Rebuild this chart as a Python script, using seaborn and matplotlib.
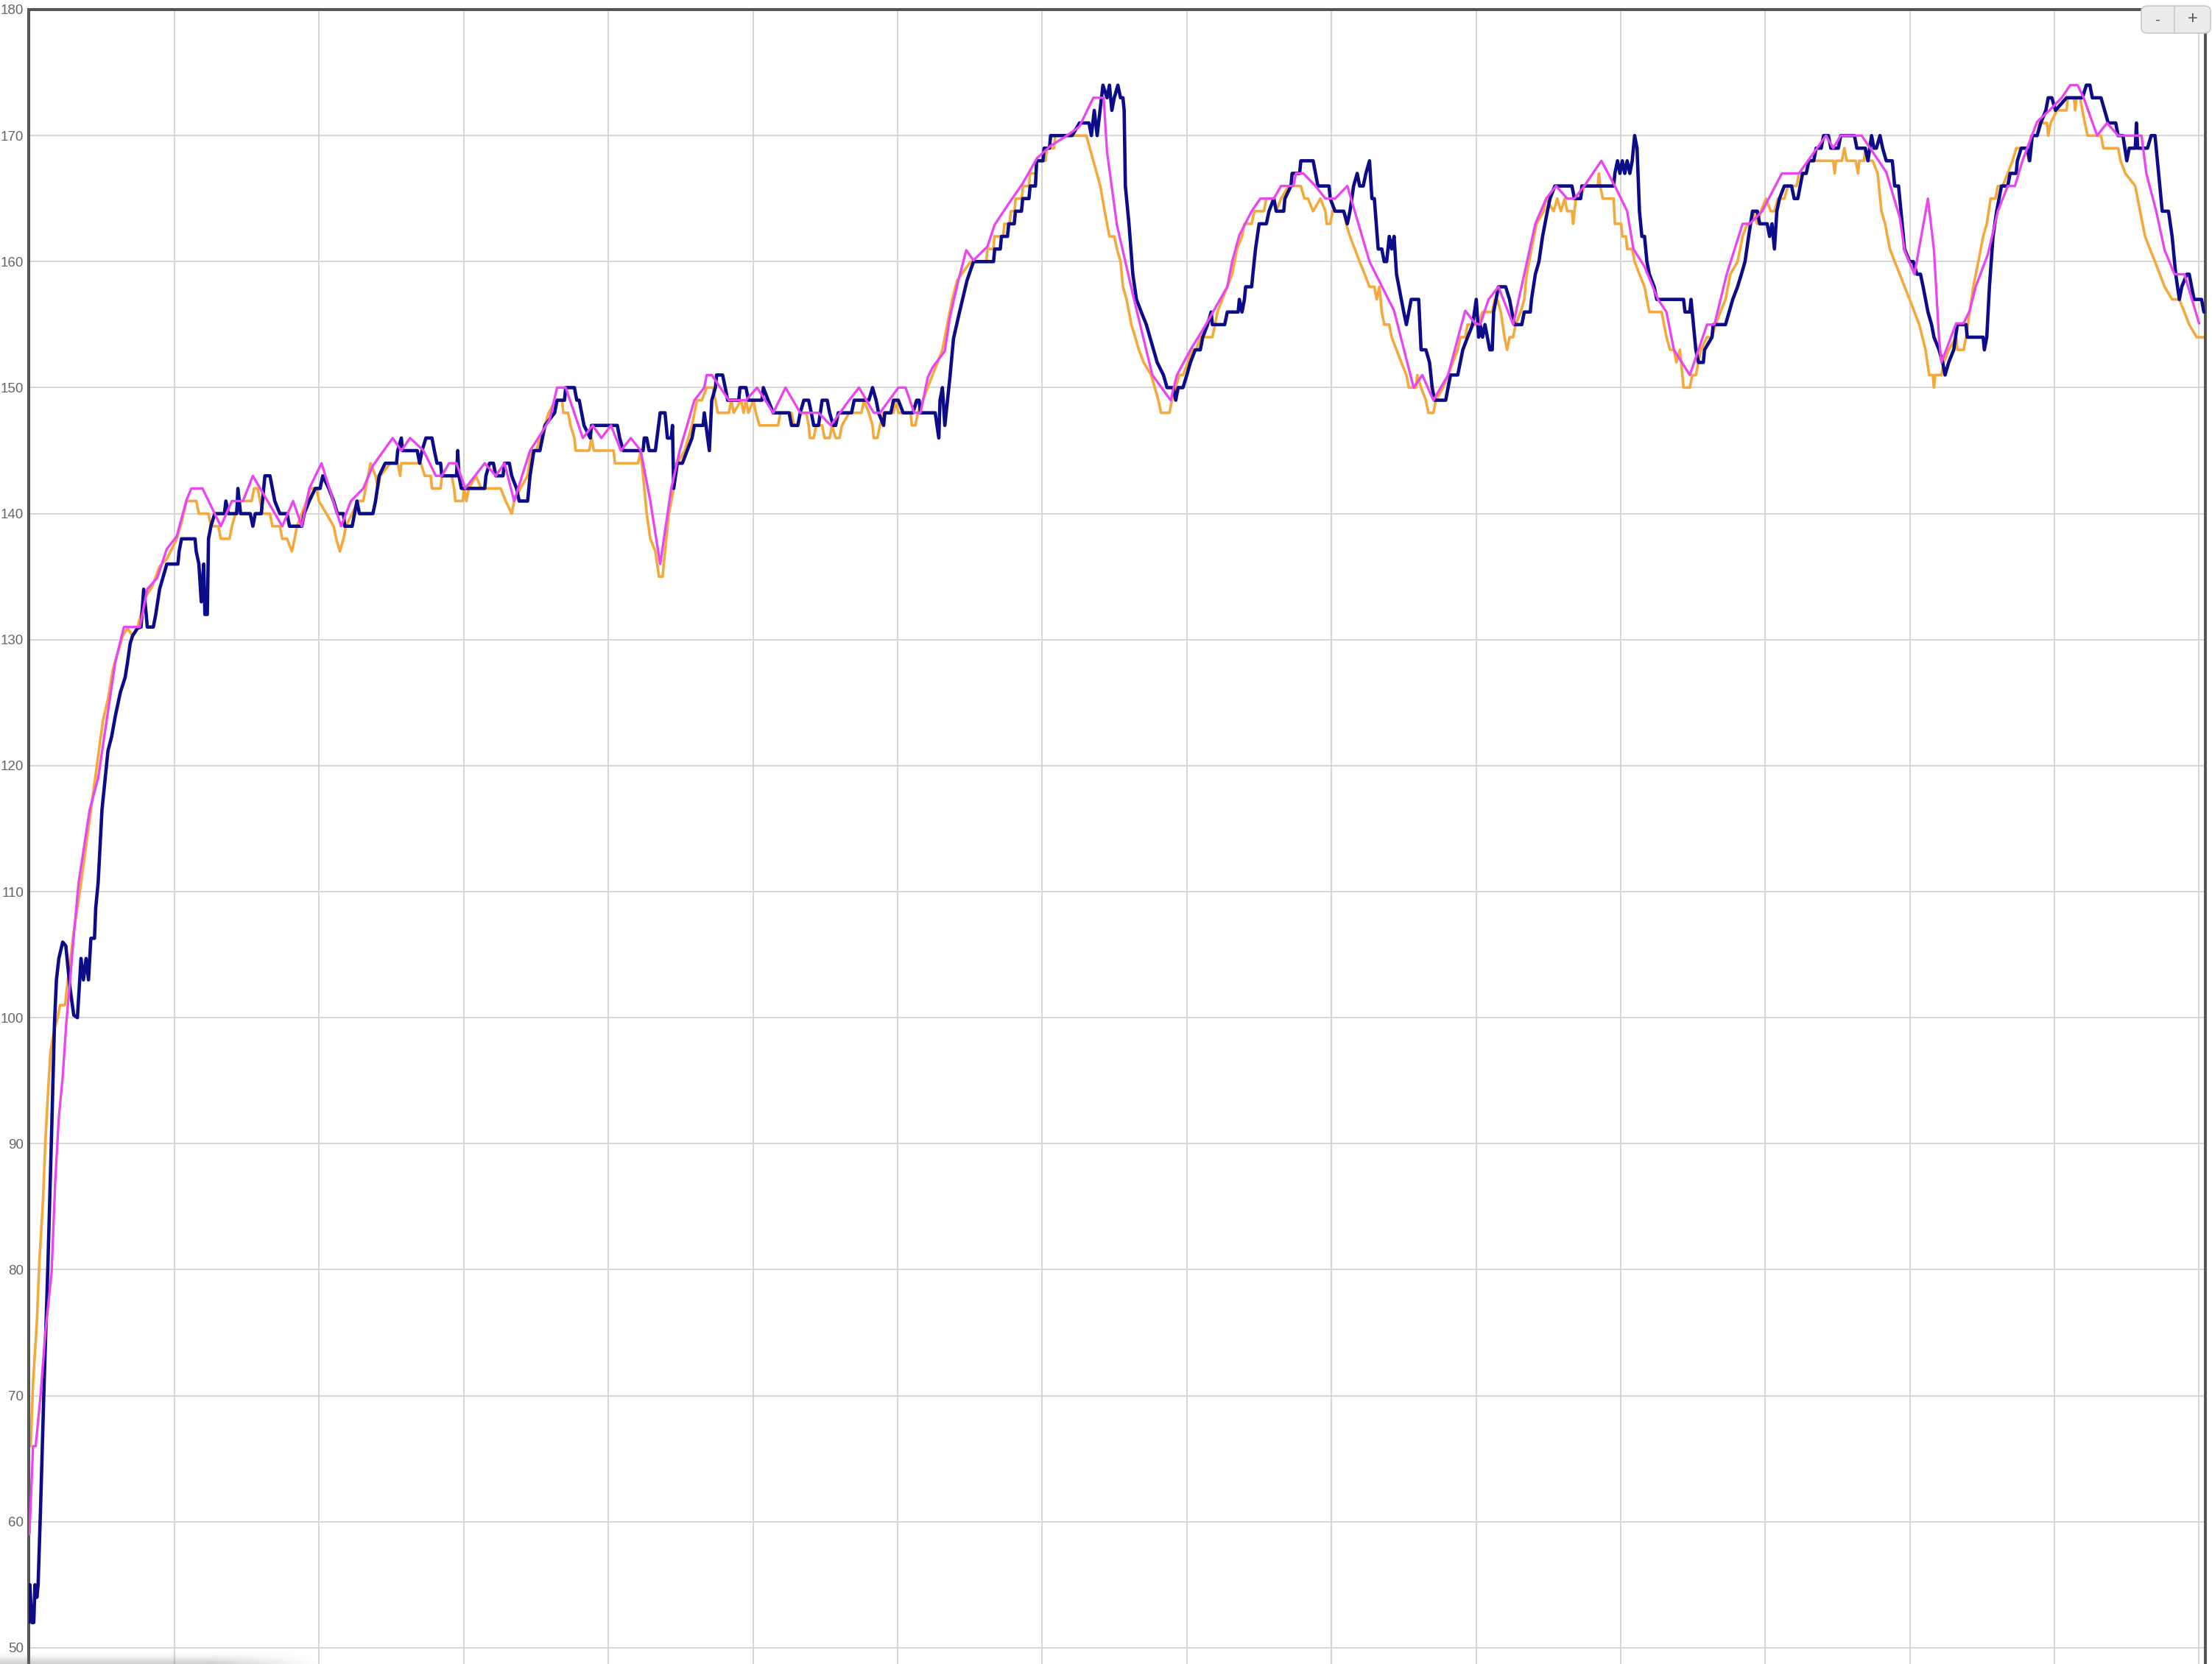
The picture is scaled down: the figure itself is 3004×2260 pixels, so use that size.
import numpy as np
import pandas as pd
import matplotlib
matplotlib.use("Agg")
import matplotlib.pyplot as plt
import seaborn as sns
from matplotlib.patches import FancyBboxPatch

# ---------------- data (time in s, value) ----------------
navy_series = [
(-0.6,52),(0.0,55),(0.8,52),(1.6,52),(2.1,55),(2.9,54),(3.4,55),(3.9,58),(4.4,61),(5.9,71),(7.5,80.6),(9.0,90.9),(10.2,99.6),(11.0,103),(12.0,104.7),(13.6,106),(14.9,105.7),(16.6,102.4),(18.2,100.2),(19.7,100),(21.2,104.7),(22.2,103),(23.3,104.7),(24.3,103),(25.3,106.3),(26.8,106.3),(27.3,108.7),(28.3,110.7),
(29.9,116.5),(32.4,121.2),(33.9,122.3),(35.4,123.9),(37.5,125.8),(39.5,127),(40.5,128.2),(41.6,129.7),(42.6,130.3),(44.6,130.9),(46.1,131),(47.2,134),(48.2,132.1),(48.7,131),(51.2,131),(52.2,132),(53.8,134),(55.3,135),(56.8,136),(61.4,136),(61.9,137),(62.9,138),(68.5,138),(69.0,137),(70.1,136),(71.1,133),(72.1,136),(72.6,132),(73.6,132),(74.1,138),(75.1,139),(76.7,140),(80.7,140),(81.3,141),(82.3,140),(85.8,140),(86.3,142),(87.4,140),(91.4,140),(92.5,139),(93.5,140),(96.0,140),(97.5,143),(99.6,143),(101.6,141),(103.7,140),(106.7,140),(107.7,139),
(112.8,139),(113.8,140),(115.9,141),(118.4,142),(120.4,142),(121.5,143),(124.0,142),(126.0,141),(127.6,140),(130.1,140),(130.6,139),(133.7,139),(134.7,140),(135.7,141),(136.7,140),(142.3,140),(143.4,141),(144.9,143),(147.4,144),
(152.1,144),(152.6,145),(154.1,146),(154.6,145),(160.7,145),(161.7,144),(162.7,145),(164.3,146),(166.8,146),(167.8,145),(168.9,144),(170.4,144),(170.9,143),(177.0,143),(177.5,145),(178.0,143),(179.0,142),(188.7,142),(189.2,143),(190.7,144),(192.3,144),(193.3,143),(196.3,143),(196.9,144),(198.9,144),(199.9,143),(201.9,142),(203.0,141),(206.5,141),(207.5,143),(209.1,145),(211.6,145),(213.7,147),(217.7,148),(218.7,149),(221.8,149),(222.3,150),(225.9,150),(226.9,149),(227.9,149),(228.9,148),(229.9,147),(232.5,146),(233.0,147),(243.7,147),(244.7,146),(246.2,145),(254.4,145),(254.9,146),(255.9,146),(256.9,145),(259.5,145),(261.5,148),(263.5,148),(264.5,146),(266.1,146),(266.6,147),(267.1,142),(268.6,144),(270.7,144),(272.7,145),(274.7,146),(275.7,147),(279.3,147),(279.8,148),(281.9,145),(282.9,149),(284.4,150),(284.9,151),(287.4,151),(288.5,150),(289.5,149),(294.1,149),(294.6,150),(297.1,150),(298.1,149),(303.7,149),(304.3,150),
(306.3,149),(308.4,148),(315.0,148),(316.0,147),(318.6,147),(319.6,148),(321.1,149),(323.1,149),(324.2,148),(325.2,147),(327.2,147),(328.7,149),(330.8,149),(331.8,148),(333.3,147),(334.3,147),(335.4,148),(340.9,148),(342.0,149),(348.1,149),(349.6,150),(351.1,149),(352.1,148),(354.2,147),(354.7,148),(357.2,148),(358.3,149),(360.3,149),(362.3,148),(366.4,148),(367.9,149),(368.9,149),(369.5,148),(375.6,148),(377.1,146),(377.6,149),(378.6,150),(379.6,147),(380.7,149),(381.7,150.8),(383.2,153.9),(385.7,156),(388.8,158.5),
(391.5,160),(399.8,160),(400.3,161),(402.6,161),(403.1,162),(405.6,162),(406.1,163),(408.4,163),(408.9,164),(411.4,164),(411.9,165),(414.5,165),(415.0,166),(417.2,166),(417.7,168),(420.3,168),(420.8,169),(423.0,169),(423.5,170),(432.4,170),(435.5,171),(439.4,171),(440.4,170),(441.6,172),(442.8,170),(444.0,172),(445.2,174),
(446.9,173),(447.9,174),(448.9,172),(449.9,173),(451.4,174),(452.5,173),(453.5,173),(454.0,172),(454.5,166),(456.0,163),(457.6,159),(459.1,157),(461.1,156),(463.2,155),(464.7,154),(466.2,153),(467.7,152),(470.3,151),(471.8,150),(474.4,150),(475.4,149),(476.4,150),(478.4,150),(480.0,151),(481.5,152),(483.5,153),(485.6,153),(486.6,154),(488.6,155),(490.1,156),(490.6,155),(495.7,155),(496.8,156),(501.3,156),(501.8,157),(502.9,156),(503.9,157),(504.4,158),(506.9,158),(507.4,159),(508.5,161),(510.0,163),(513.0,163),(514.1,164),(516.1,165),(517.1,164),(520.2,164),(520.7,165),(523.2,166),(523.7,167),(526.8,167),(527.3,168),(532.4,168),(533.4,167),(534.4,166),(539.0,166),(539.5,165),(541.5,164),(545.1,164),(546.6,163),(547.7,164),(549.2,166),(550.7,167),(551.7,166),(553.2,166),(554.3,167),(555.8,168),(556.8,165),(557.8,165),(559.4,161),(560.9,161),(561.9,160),(562.9,160),(564.0,162),(565.0,161),(566.0,162),(567.0,159),(569.0,157),(570.0,156),(571.1,155),(572.1,156),(573.1,157),(576.2,157),(577.2,153),(579.2,153),(580.7,152),(581.8,150),(582.8,149),(587.4,149),(589.4,151),(592.4,151),(594.5,153),(596.5,154),(598.6,155),(600.1,157),(601.1,154),
(601.7,155),(602.7,154),(603.7,155),(604.7,154),(605.7,153),(606.7,153),(607.3,156),(608.3,157),(609.3,158),(612.3,158),(613.9,157),(614.9,156),(615.9,155),(619.0,155),(620.0,156),(622.5,156),(623.0,157),(624.6,159),(626.1,160),(627.6,162),(628.6,163),(629.6,164),(630.7,165),(632.7,166),(639.8,166),(640.8,165),(643.4,165),(643.9,166),(657.1,166),(657.6,167),(658.7,168),(659.7,167),(660.7,168),(661.7,167),(662.7,168),(663.8,167),(664.8,168),(665.8,170),(666.8,169),(667.8,164),(668.8,162),(669.9,162),(670.9,160),(671.9,159),(673.9,158),(675.0,157),(686.1,157),(686.7,156),(688.7,156),(689.2,157),(690.2,155),(691.2,153),(692.3,152),(694.3,152),(694.8,153),(697.9,154),(698.4,155),(703.5,155),(705.0,156),(706.5,157),(708.5,158),(710.1,159),(711.6,160),(713.1,162),(714.7,164),(716.7,164),(717.7,163),(720.8,163),(721.8,162),(722.8,163),(723.8,161),(724.8,164),(725.9,165),(727.9,166),(730.9,166),(732.0,165),(733.5,165),(734.5,166),(735.5,167),(737.0,167),(738.1,168),(740.1,168),(741.1,169),(743.2,169),(744.2,170),(746.2,170),(747.2,169),(750.3,169),(751.3,170),
(757.0,170),(758.0,169),(761.5,169),(762.6,168),(764.1,170),(765.1,169),(766.1,169),(767.6,170),(768.7,169),(770.2,168),(772.7,168),(773.7,166),(775.3,166),(776.8,163),(777.8,161),(779.9,160),(781.4,160),(782.9,159),(784.4,159),(785.5,158),(786.5,157),(787.5,156),(789.0,155),(790.0,154),(792.1,153),(793.6,152),(794.6,151),(796.1,152),(798.2,153),(799.7,155),(803.3,155),(803.8,154),(810.4,154),(810.9,153),(811.9,154),(813.0,158),(814.5,162),(816.0,164),(818.0,166),(820.6,166),(821.6,167),(824.1,167),(824.6,168),(826.2,169),(828.7,169),(829.7,168),(830.8,170),(832.8,170),(834.3,171),(836.4,172),(837.4,173),(838.9,173),(840.4,172),(845.0,173),(851.6,173),(853.2,174),(854.7,174),(855.7,173),(859.3,173),(860.8,172),(862.3,171),(865.4,171),(866.4,170),(868.4,170),(870.0,168),(871.0,169),(873.5,169),(874.0,171),(874.5,169),(878.6,169),(880.1,170),(881.7,170),(883.7,166),(884.7,164),(887.3,164),(888.8,162),(890.3,159),(891.8,157),(892.8,158),(894.9,159),(895.9,159),(897.9,157),(901.0,157),(902.0,156),
]

orange_series = [
(-0.6,66),(0.3,66),(1.3,71),(2.9,75.9),(3.9,80.6),(5.4,85.4),(6.4,90.1),(7.5,94),(8.5,97.2),(10.0,99),(11.5,100),(12.5,101),(14.6,101),(15.6,102.8),(16.6,104.3),(18.1,106.7),(19.2,108.1),(21.2,110.7),
(25.3,116.5),(30.4,123.7),(32.4,125.3),(34.4,127.6),(36.5,129),(38.5,130.3),(40.5,130.9),(42.6,130.3),(44.6,130.9),(47.7,133.3),(50.7,134.2),(53.8,135.8),(56.8,136.4),(58.9,137.2),(60.9,138),(62.9,139.3),(65.0,141),(69.0,141),(70.1,140),(74.1,140),(75.1,139),(78.2,139),(79.2,138),(82.8,138),(83.8,139),(85.3,140),(86.3,141),(92.0,141),(93.0,142),(94.5,142),(95.5,141),(96.5,140),(99.6,140),(100.6,139),(103.7,139),(104.7,138),(106.7,138),(108.7,137),
(109.8,138),(110.8,139),(114.8,141),(116.4,142),(118.9,142),(119.9,141),(123.0,140),(126.0,139),(127.1,138),(128.6,137),(130.1,138),(131.1,139),(136.2,141),(138.3,141),(141.3,144),(143.4,143),(144.4,142),(145.4,143),(149.5,144),
(152.6,144),(153.6,143),(154.1,144),(162.2,144),(163.8,143),(166.3,143),(166.8,142),(170.4,142),(170.9,143),(175.0,143),(176.0,142),(176.5,141),(179.6,141),(180.1,142),(181.1,141),(182.1,142),(185.1,143),(187.2,142),(195.3,142),(197.4,141),(199.9,140),(200.9,141),(203.5,142),(206.5,143),(208.1,145),(210.1,145),(211.6,146),(213.6,147),(215.2,148),(218.2,149),(220.8,149),(221.3,148),(223.3,148),(224.3,147),(225.9,146),(226.4,145),(232.0,145),(233.0,146),(234.0,145),(242.2,145),(242.7,144),(252.3,144),(253.4,145),(254.4,143),(255.9,140),(257.4,138),(259.5,137),(261.0,135),(262.5,135),(263.5,137),(265.1,140),(267.1,142),(268.6,144),(271.7,145),(274.7,147),(276.8,149),(278.8,149),(280.8,150),(283.4,150),(284.4,149),(285.4,148),(290.0,148),(291.0,149),(292.0,148),(295.1,149),(296.1,148),(297.1,149),(298.1,148),(300.2,149),(301.2,148),(302.7,147),
(310.4,147),(311.4,148),(316.0,148),(317.0,147),(318.6,147),(319.6,148),(322.1,148),(323.1,147),(323.6,146),(325.2,146),(326.2,147),(328.7,147),(329.7,146),(331.8,146),(332.8,147),(334.3,146),(335.9,146),(336.9,147),(339.9,148),(345.0,148),(346.0,149),(348.1,148),(349.6,147),(350.1,146),(351.6,146),(352.7,147),(354.2,148),(358.3,148),(359.3,149),(360.3,148),(365.4,148),(365.9,147),(367.4,147),(368.4,148),(370.5,149),(372.5,150),(374.5,151),(376.6,152),(378.6,153),(380.6,155),(382.7,157),(384.7,158.5),
(390.3,160),(396.8,160),(397.3,161),(399.7,161),(400.2,162),(403.8,162),(404.3,163),(406.5,163),(407.0,164),(408.5,164),(409.0,165),(411.5,165),(412.0,166),(414.5,166),(415.0,167),(417.3,167),(417.8,168),(421.4,168),(421.9,169),(424.9,169),(425.4,170),(438.3,170),(441.2,168),(444.1,166),
(445.9,164),(447.9,162),(449.9,162),(451.0,161),(452.5,160),(453.5,158),(455.0,157),(456.0,156),(457.0,155),(458.6,154),(460.1,153),(462.1,152),(465.2,151),(466.7,150),(468.2,149),(469.3,148),(472.8,148),(473.8,149),(475.4,150),(476.9,151),(478.4,151),(480.5,152),(482.0,153),(484.0,153),(485.6,154),(490.6,154),(491.7,155),(492.7,156),(494.7,157),(496.8,158),(498.8,159),(500.8,161),(502.9,162),(503.9,163),(506.9,163),(508.0,164),(512.0,164),(513.0,165),(516.1,165),(517.1,164),(519.1,165),(522.2,166),(527.3,166),(528.8,165),(530.3,165),(532.4,164),(535.4,165),(537.5,164),(538.0,163),(539.5,163),(540.5,164),(545.1,164),(546.1,163),(547.7,162),(549.7,161),(551.7,160),(553.8,159),(555.8,158),(557.8,158),(558.8,157),(559.9,158),(560.9,156),(561.9,155),(564.0,155),(565.0,154),(567.0,153),(569.0,152),(571.1,151),(572.1,150),(575.1,150),(575.6,151),(577.2,150),(579.2,149),(580.2,148),(582.3,148),(583.3,149),(586.3,150),(588.4,151),(590.4,152),(592.4,153),(593.5,154),(595.5,154),(596.5,155),(598.6,155),
(600.6,155),(602.7,156),(606.7,156),(607.8,157),(608.8,157),(610.3,156),(611.8,154),(612.9,153),(613.9,154),(615.4,154),(616.4,155),(618.5,156),(620.0,157),(621.0,159),(623.0,161),(625.1,163),(628.1,164),(629.1,165),(632.2,164),(633.7,165),(635.2,164),(636.8,165),(637.8,164),(639.8,164),(640.3,163),(641.4,165),(643.4,165),(644.9,166),(650.5,166),(651.0,167),(651.5,166),(652.6,165),(657.1,165),(657.6,163),(660.2,163),(660.7,162),(662.2,162),(662.7,161),(664.8,161),(665.8,160),(667.8,159),(669.9,158),(670.9,157),(671.9,156),(677.0,156),(678.0,155),(679.0,154),(680.5,153),(682.1,153),(683.1,152),(684.6,153),(685.1,152),(686.1,150),(688.7,150),(689.7,151),(691.2,151),(693.3,153),(695.8,154),(697.9,154),(699.4,155),(701.4,156),(703.5,157),(705.5,159),(708.5,160),(710.6,162),(712.6,163),(714.1,163),(715.2,164),(716.7,163),(718.2,164),(720.3,165),(722.3,164),(723.8,164),(725.3,165),(727.9,165),(729.4,166),(733.0,166),(734.0,167),(737.0,167),(738.1,168),(748.2,168),(748.8,167),(749.3,168),(751.8,168),(752.8,169),(753.8,168),
(757.5,168),(758.5,167),(759.0,168),(761.0,168),(761.5,169),(762.6,168),(764.6,168),(766.6,167),(768.2,164),(769.7,163),(771.7,161),(773.7,160),(775.8,159),(777.8,158),(779.9,157),(781.9,156),(783.9,155),(786.5,153),(788.0,151),(789.5,151),(790.0,150),(790.5,151),(793.1,151),(794.1,152),(796.1,153),(799.2,154),(799.7,153),(802.3,153),(803.3,154),(804.8,156),(806.3,158),(808.4,160),(810.4,162),(811.9,163),(813.5,165),(815.5,165),(816.5,166),(818.5,166),(820.6,167),(822.6,168),(824.1,169),(828.7,169),(829.2,168),(830.3,170),(832.8,170),(833.8,171),(836.9,171),(837.4,170),(838.4,171),(841.0,172),(845.0,172),(845.5,173),(848.1,173),(848.6,172),(849.1,173),(850.6,173),(851.6,172),(852.6,171),(853.7,170),(859.3,170),(860.3,169),(866.4,169),(867.4,168),(869.4,167),(873.5,166),(875.5,164),(877.6,162),(879.6,161),(881.7,160),(883.7,159),(885.7,158),(888.8,157),(891.8,157),(893.9,156),(895.9,155),(899.0,154),(902.0,154),
]

magenta_series = [
(-0.2,59),(1.3,66),(2.4,66),(4.4,70),(6.4,75),(9.0,79.8),(10.5,87),(12.0,92.1),(13.6,95.3),(15.1,99.6),(16.6,102.8),(18.1,106.3),(20.2,110.7),
(24.8,116.5),(28.3,119),(32.4,124.3),(35.4,128.2),(39.0,131),(45.6,131),(48.7,134),(52.8,134.9),(56.8,137.2),(60.9,138.2),(65.0,141.1),(67.0,142),(71.6,142),(79.2,139),(83.8,141),(88.4,141),(92.5,143),(104.7,139),
(109.2,141),(112.8,139),(115.9,142),(121.0,144),(129.1,139),(133.2,141),(138.3,142),(142.3,143.8),
(150.5,146),(154.1,145),(157.7,146),(163.3,145),(168.4,143),(170.9,143),(173.9,144),(177.0,144),(180.6,142),(188.7,144),(193.3,143),(196.9,144),(200.9,141),(207.5,145),(212.6,146.5),(215.7,147.5),(218.7,150),(222.3,150),(229.4,146),(233.5,147),(237.1,146),(241.1,147),(245.2,145),(249.3,146),(253.4,145),(257.4,141),(261.5,136),(266.1,142),(269.6,145),(275.7,149),(279.8,150),(280.8,151),(282.9,151),(290.0,149),(297.1,149),(301.7,150),
(308.4,148),(313.5,150),(319.6,148),(327.2,148),(332.3,147),(339.9,149),(344.0,150),(350.1,148),(352.7,148),(360.3,150),(363.3,150),(366.9,148),(369.5,148),(372.5,150.8),(374.5,151.6),(379.6,152.9),(381.7,155.6),(385.2,158.5),
(388.5,160.9),(391.5,160.1),(397.3,161.2),(400.2,162.9),(406.1,164.6),(411.9,166.2),(417.8,168.2),(423.6,169.2),(429.5,169.9),(435.4,170.7),(441.2,173),(445.5,173),
(446.9,168.7),(451.0,162.9),(458.1,157),(465.7,151),(473.3,149),(475.9,151),(481.5,153),(487.6,154.9),(493.2,156.8),(496.8,158),(498.8,160),(501.8,162.1),(506.9,164),(510.5,165),(516.1,165),(519.1,166),(524.2,166),(525.3,167),(528.3,167),(533.4,166),(537.5,165),(541.5,165),(546.6,166),(555.8,160),(566.0,156.1),(574.1,150),(577.7,151),(582.3,149),(588.4,151),(595.5,156.1),(599.6,155.1),
(601.7,155),(605.2,157),(609.3,158),(615.4,155),(620.0,159),(624.6,163),(629.1,165),(633.2,166),(637.8,165),(640.8,165),(644.9,166),(652.0,168),(657.6,166),(662.7,164),(665.3,161),(669.9,159.6),(675.5,157),(679.0,156),(682.1,153),(688.7,151),(692.3,153),(695.8,155),(698.9,155),(704.0,159),(710.6,163),(713.6,163),(718.7,164),(726.9,167),(734.0,167),(745.2,170),(748.2,169),(751.3,170),(757.4,170),
(760.0,170),(770.2,167.1),(775.8,163.5),(777.8,160.9),(781.9,159),(787.5,165),(790.0,160.9),(792.1,153.9),(793.1,152),(799.2,155.1),(802.3,155.1),(804.8,156.1),(807.3,158),(812.4,160.6),(816.5,164),(820.6,166),(823.6,166),(826.7,168),(832.8,171.1),(837.9,172),(843.0,173),(846.5,174),(849.6,174),(852.1,173),(857.7,170),(861.8,171),(866.4,170),(876.1,170),(878.1,167),(882.2,164),(885.7,160.9),(889.8,159),(893.9,159),(900.0,155.1),
]

y_ticks = [50, 60, 70, 80, 90, 100, 110, 120, 130, 140, 150, 160, 170, 180]
x_grid = [60, 120, 180, 240, 300, 360, 420, 480, 540, 600, 660, 720, 780, 840, 900]

# ---------------- figure ----------------
sns.set_style("white")
plt.rcParams['font.family'] = ['Liberation Sans', 'DejaVu Sans']

W, H = 3004, 2260
fig = plt.figure(figsize=(W / 100, H / 100), dpi=100)
fig.patch.set_facecolor("white")
ax_left, ax_right, ax_top = 38.5, 2995, 13
ax = fig.add_axes([ax_left / W, 0, (ax_right - ax_left) / W, 1 - ax_top / H])

def to_df(points, name):
    t, v = zip(*points)
    return pd.DataFrame({"t": t, "value": v, "series": name})

styles = [
    (orange_series, "orange", "#f3a93c", 2.6, 2),
    (navy_series, "navy", "#0c0c88", 3.3, 3),
    (magenta_series, "magenta", "#e945f0", 2.4, 4),
]
for pts, name, col, lw, z in styles:
    df = to_df(pts, name)
    sns.lineplot(data=df, x="t", y="value", ax=ax, color=col, linewidth=lw,
                 sort=False, estimator=None, zorder=z,
                 solid_joinstyle="round", solid_capstyle="round")

ax.set_xlim(-0.65, 902.6)
ax.set_ylim(48.71, 180)
ax.set_xticks(x_grid)
ax.set_yticks(y_ticks)
ax.set_yticklabels([str(v) for v in y_ticks])
ax.set_xlabel("")
ax.set_ylabel("")
ax.tick_params(axis="x", length=0, labelbottom=False)
ax.tick_params(axis="y", length=0, pad=4.5, labelsize=13.5, labelcolor="#666666")
ax.grid(True, color="#d6d6d6", linewidth=1.4)
ax.set_axisbelow(True)
for side in ["left", "top", "right"]:
    ax.spines[side].set_visible(True)
    ax.spines[side].set_color("#555555")
    ax.spines[side].set_linewidth(2.9)
ax.spines["bottom"].set_visible(False)
if ax.get_legend() is not None:
    ax.get_legend().remove()

# zoom button "- +" in the top-right corner
bx0, bx1, by0, by1 = 2908, 3002, 8, 45
btn = FancyBboxPatch((bx0 / W, 1 - by1 / H), (bx1 - bx0) / W, (by1 - by0) / H,
                     boxstyle="round,pad=0,rounding_size=0.003",
                     transform=fig.transFigure, facecolor="#ececec",
                     edgecolor="#c9c9c9", linewidth=1.2, zorder=5)
fig.patches.append(btn)
fig.add_artist(plt.Line2D([2953 / W, 2953 / W], [1 - by1 / H, 1 - by0 / H],
                          transform=fig.transFigure, color="#c9c9c9", linewidth=1.2, zorder=6))
fig.text(2930 / W, 1 - 27 / H, "-", ha="center", va="center", fontsize=15,
         color="#555555", zorder=7)
fig.text(2978 / W, 1 - 26 / H, "+", ha="center", va="center", fontsize=17,
         color="#555555", zorder=7)

# faint shadow strip at the bottom-left
sh = fig.add_axes([0, 0, 430 / W, 18 / H])
gy = np.linspace(0, 1, 18)[:, None]
gx = np.clip((1 - np.linspace(0, 1, 430)[None, :]) * 3, 0, 1)
alpha = (gy ** 1.5) * gx * 0.35
img = np.zeros((18, 430, 4))
img[..., :3] = 0.45
img[..., 3] = alpha
sh.imshow(img, aspect="auto", origin="upper", interpolation="bilinear")
sh.axis("off")

fig.savefig("out.png", dpi=100, facecolor="white")
